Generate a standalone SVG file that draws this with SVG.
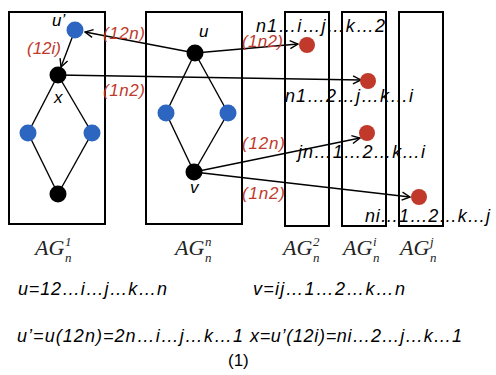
<svg xmlns="http://www.w3.org/2000/svg" width="496" height="375" viewBox="0 0 496 375">
<style>
.box{fill:none;stroke:#000;stroke-width:2}
.e{stroke:#000;stroke-width:1.4;fill:none}
.a{stroke:#000;stroke-width:1.4;fill:none;marker-end:url(#arr)}
.blk{fill:#000}
.blu{fill:#2c66c0}
.red{fill:#c0392b}
.t{font-family:"Liberation Sans",Arial,sans-serif;font-style:italic;font-size:17px;fill:#000}
.s{font-family:"Liberation Sans",Arial,sans-serif;font-style:italic;font-size:18px;fill:#000}
.r{font-family:"Liberation Sans",Arial,sans-serif;font-style:italic;font-size:17px;fill:#c0392b}
.ag{font-family:"Liberation Serif","Times New Roman",serif;font-style:italic;font-size:22px;fill:#222}
.sm{font-size:13px}
.up{font-family:"Liberation Sans",Arial,sans-serif;font-size:17px;fill:#000}
</style>
<defs>
<marker id="arr" markerWidth="10" markerHeight="10" refX="9" refY="5" orient="auto" markerUnits="userSpaceOnUse">
<path d="M1,1 L9,5 L1,9" fill="none" stroke="#000" stroke-width="1.4"/>
</marker>
</defs>
<g id="boxes">
<rect id="box-AG1" class="box" x="9" y="12" width="96" height="212"/>
<rect id="box-AGn" class="box" x="146" y="12" width="96" height="212"/>
<rect id="box-AG2" class="box" x="285" y="12" width="44" height="214"/>
<rect id="box-AGi" class="box" x="342" y="12" width="44" height="214"/>
<rect id="box-AGj" class="box" x="399" y="12" width="44" height="214"/>
</g>
<g id="connectors">
<line class="e" x1="58" y1="75" x2="28" y2="133"/>
<line class="e" x1="58" y1="75" x2="92" y2="133"/>
<line class="e" x1="28" y1="133" x2="58" y2="194"/>
<line class="e" x1="92" y1="133" x2="58" y2="194"/>
<line class="e" x1="195" y1="53" x2="166" y2="113"/>
<line class="e" x1="195" y1="53" x2="228" y2="113"/>
<line class="e" x1="166" y1="113" x2="194" y2="172"/>
<line class="e" x1="228" y1="113" x2="194" y2="172"/>
<line class="a" x1="195" y1="53" x2="85" y2="32"/>
<line class="a" x1="75" y1="30" x2="61" y2="67"/>
<line class="a" x1="58" y1="75" x2="361" y2="80"/>
<line class="a" x1="195" y1="53" x2="298" y2="44"/>
<line class="a" x1="194" y1="172" x2="360" y2="138"/>
<line class="a" x1="194" y1="172" x2="410" y2="197"/>
</g>
<g id="node-uprime"><circle class="blu" cx="75" cy="30" r="8.5"/><text class="t" x="52" y="26">u’</text></g>
<g id="node-x"><circle class="blk" cx="58" cy="75" r="8.5"/><text class="t" x="54" y="103">x</text></g>
<g id="node-a1l"><circle class="blu" cx="28" cy="133" r="8.5"/></g>
<g id="node-a1r"><circle class="blu" cx="92" cy="133" r="8.5"/></g>
<g id="node-a1b"><circle class="blk" cx="58" cy="194" r="8.5"/></g>
<g id="node-u"><circle class="blk" cx="195" cy="53" r="8.5"/><text class="t" x="199" y="37">u</text></g>
<g id="node-anl"><circle class="blu" cx="166" cy="113" r="8.5"/></g>
<g id="node-anr"><circle class="blu" cx="228" cy="113" r="8.5"/></g>
<g id="node-v"><circle class="blk" cx="194" cy="172" r="8.5"/><text class="t" x="190" y="193">v</text></g>
<g id="node-r1"><circle class="red" cx="307" cy="45" r="8"/></g>
<g id="node-r2"><circle class="red" cx="368" cy="81" r="8"/></g>
<g id="node-r3"><circle class="red" cx="367" cy="133" r="8"/></g>
<g id="node-r4"><circle class="red" cx="419" cy="197" r="8"/></g>
<g id="labels">
<text class="r" x="27" y="54">(12i)</text>
<text class="r" x="103" y="39" textLength="42">(12n)</text>
<text class="r" x="103" y="96" textLength="42">(1n2)</text>
<text class="r" x="242" y="47" textLength="41">(1n2)</text>
<text class="r" x="242" y="149" textLength="43">(12n)</text>
<text class="r" x="242" y="199" textLength="43">(1n2)</text>
<text class="s" x="256" y="32" textLength="129">n1…i…j…k…2</text>
<text class="s" x="285" y="102" textLength="128">n1…2…j…k…i</text>
<text class="s" x="298" y="158" textLength="127">jn…1…2…k…i</text>
<text class="s" x="365" y="222" textLength="125">ni…1…2…k…j</text>
</g>
<g id="ag-labels">
<text class="ag" x="35" y="255">AG</text><text class="ag sm" x="65" y="246">1</text><text class="ag sm" x="65" y="262">n</text>
<text class="ag" x="175" y="255">AG</text><text class="ag sm" x="205" y="246">n</text><text class="ag sm" x="205" y="262">n</text>
<text class="ag" x="283" y="255">AG</text><text class="ag sm" x="313" y="246">2</text><text class="ag sm" x="313" y="262">n</text>
<text class="ag" x="343" y="255">AG</text><text class="ag sm" x="373" y="246">i</text><text class="ag sm" x="373" y="262">n</text>
<text class="ag" x="400" y="255">AG</text><text class="ag sm" x="430" y="246">j</text><text class="ag sm" x="430" y="262">n</text>
</g>
<g id="formulas">
<text class="s" x="18" y="295" textLength="149">u=12…i…j…k…n</text>
<text class="s" x="253" y="295" textLength="152">v=ij…1…2…k…n</text>
<text class="s" x="17" y="342" textLength="226">u’=u(12n)=2n…i…j…k…1</text>
<text class="s" x="250" y="342" textLength="212">x=u’(12i)=ni…2…j…k…1</text>
<text class="up" x="228" y="366">(1)</text>
</g>
</svg>
